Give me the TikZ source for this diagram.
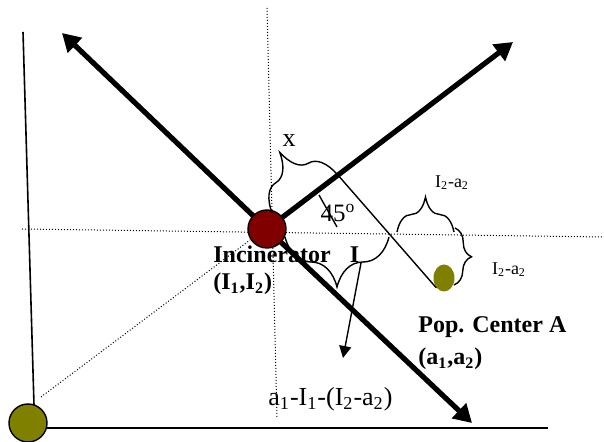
\documentclass[tikz,border=0pt]{standalone}
\usepackage{fontspec}
\setmainfont{Liberation Serif}
\usetikzlibrary{arrows.meta,decorations.pathreplacing,shapes.geometric}

\definecolor{incred}{RGB}{128,0,0}
\definecolor{popolive}{RGB}{128,128,0}

\tikzset{
    bigarrow/.style={line width=2.6pt, -{Triangle[length=9pt,width=10pt]}},
    gridline/.style={line width=0.5pt, dash pattern=on 0.5pt off 1pt},
    bracemark/.style={decorate, decoration={brace, amplitude=#1}, line width=0.7pt},
    boldlbl/.style={font=\bfseries\fontsize{12}{14}\selectfont, inner sep=0pt},
    plainlbl/.style={font=\fontsize{#1}{#1}\selectfont, inner sep=0pt},
}

\begin{document}
\begin{tikzpicture}[x=0.5pt, y=-0.5pt]
    \useasboundingbox (0,0) rectangle (604,442);

    % axes
    \draw[line width=0.8pt] (23,32) -- (34,405);
    \draw[line width=1.2pt] (47,428) -- (548,428);

    % dotted guides through the incinerator
    \draw[gridline] (22,229) -- (604,237);
    \draw[gridline] (267,8) -- (277,418);
    \draw[gridline] (41,397) -- (250,240);

    \coordinate (I) at (267,229);
    \coordinate (nw) at (62,33);
    \coordinate (ne) at (513,42);
    \coordinate (se) at (472,423);

    % wind directions
    \draw[bigarrow] (I) -- (nw);
    \draw[bigarrow] (I) -- (ne);
    \draw[bigarrow] (I) -- (se);

    \node[circle, draw, line width=0.7pt, fill=popolive, minimum size=19pt, inner sep=0pt]
        (orig) at (28,423) {};
    \node[circle, draw, line width=0.7pt, fill=incred, minimum size=19pt, inner sep=0pt]
        (inc) at (I) {};
    \node[ellipse, fill=popolive, minimum width=10.5pt, minimum height=13.5pt, inner sep=0pt]
        (pop) at (444,278) {};

    % distance x along the axis and the perpendicular to A
    \coordinate (foot) at (337,174);
    \draw[bracemark=24pt] (272,213) -- (foot);
    \draw[line width=0.7pt] (foot) -- (pop.south west);
    \draw[line width=0.7pt] (319,195) -- (337,227);

    % offsets I2-a2
    \draw[bracemark=17.5pt] (397,232) -- (454,232);
    \draw[bracemark=8.5pt] (455,228) -- (454,285);
    \draw[bracemark=25pt] (389,237) -- (285,237);

    \coordinate (bt) at (361,263);
    \coordinate (bl) at (343,358);
    \draw[line width=0.7pt, -{Triangle[length=6pt,width=6pt]}] (bt) -- (bl);

    % labels
    \node[boldlbl, anchor=base west] (inclbl) at (213,263) {Incinerator\hspace{0.8em}I};
    \node[boldlbl, anchor=base west] (inccoord) at (213,290) {(I\textsubscript{1},I\textsubscript{2})};
    \node[boldlbl, anchor=base west] (poplbl) at (418,333) {Pop. Center A};
    \node[boldlbl, anchor=base west] (popcoord) at (418,365) {(a\textsubscript{1},a\textsubscript{2})};
    \node[plainlbl=13] (xlbl) at (289,141) {x};
    \node[plainlbl=12.5] (anglbl) at (338,213) {45\textsuperscript{o}};
    \node[plainlbl=9] (dlbl) at (452,183) {I\textsubscript{2}-a\textsubscript{2}};
    \node[plainlbl=9] (dlbr) at (509,270) {I\textsubscript{2}-a\textsubscript{2}};
    \node[plainlbl=13, anchor=base west] (difflbl) at (268,406)
        {a\textsubscript{1}-I\textsubscript{1}-(I\textsubscript{2}-a\textsubscript{2})};
\end{tikzpicture}
\end{document}
